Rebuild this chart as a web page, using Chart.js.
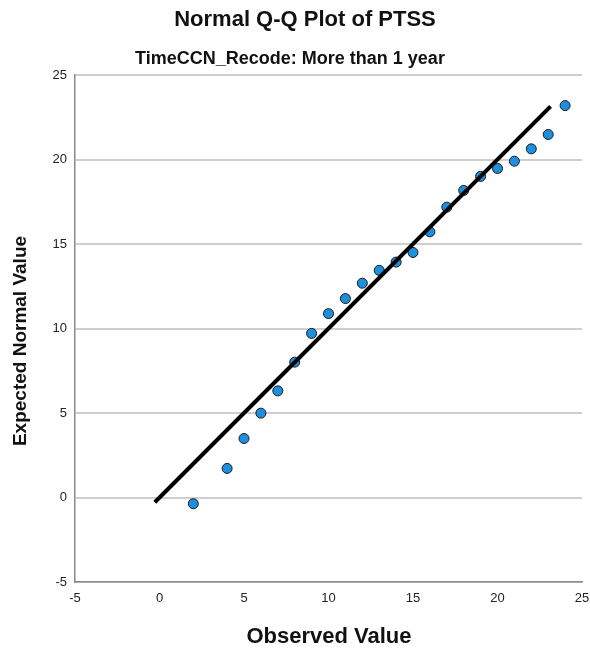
<!DOCTYPE html>
<html lang="en">
<head>
    <meta charset="UTF-8">
    <title>Normal Q-Q Plot of PTSS</title>
    <script src="https://cdn.jsdelivr.net/npm/chart.js"></script>
    <style>
        html, body { margin: 0; padding: 0; background: #fff; }
        #wrap { width: 590px; height: 648px; }
    </style>
</head>
<body>
    <div id="wrap"><canvas id="qqChart" width="590" height="648"></canvas></div>

    <script>
        // Observed PTSS scores and their expected normal values
        const observed = [2, 4, 5, 6, 7, 8, 9, 10, 11, 12, 13, 14, 15, 16, 17, 18, 19, 20, 21, 22, 23, 24];
        const expected = [-0.37, 1.72, 3.49, 4.99, 6.31, 8.01, 9.71, 10.88, 11.77, 12.68, 13.44, 13.93,
                          14.50, 15.72, 17.18, 18.17, 19.00, 19.47, 19.90, 20.63, 21.48, 23.19];

        // Reference line end points (y = x)
        const refLine = [-0.28, 23.14];

        const axisTicks = [-5, 0, 5, 10, 15, 20, 25];

        const titleText = "Normal Q-Q Plot of PTSS";
        const subtitleText = "TimeCCN_Recode: More than 1 year";
        const xTitle = "Observed Value";
        const yTitle = "Expected Normal Value";

        const FONT = "'Liberation Sans', Arial, sans-serif";

        // titles drawn straight onto the canvas
        const titlesPlugin = {
            id: "titles",
            afterDraw(chart) {
                const ctx = chart.ctx;
                ctx.save();
                ctx.fillStyle = "#111";
                ctx.textAlign = "center";
                ctx.textBaseline = "middle";
                ctx.font = "bold 22px " + FONT;
                ctx.fillText(titleText, 305, 20);
                ctx.font = "bold 18px " + FONT;
                ctx.fillText(subtitleText, 290, 59);
                ctx.font = "bold 22px " + FONT;
                ctx.fillText(xTitle, 329, 637);
                ctx.translate(21, 341);
                ctx.rotate(-Math.PI / 2);
                ctx.font = "bold 19px " + FONT;
                ctx.fillText(yTitle, 0, 0);
                ctx.restore();
            }
        };

        new Chart(document.getElementById("qqChart"), {
            type: "scatter",
            data: {
                datasets: [
                    {
                        type: "line",
                        data: refLine.map(v => ({ x: v, y: v })),
                        borderColor: "#000",
                        borderWidth: 4,
                        pointRadius: 0,
                        fill: false,
                        order: 0
                    },
                    {
                        data: observed.map((x, i) => ({ x: x, y: expected[i] })),
                        backgroundColor: "#1e8fdc",
                        borderColor: "#1a1a1a",
                        borderWidth: 1,
                        pointRadius: 5,
                        order: 1
                    }
                ]
            },
            options: {
                responsive: false,
                animation: false,
                layout: { padding: { top: 75, right: 8, left: 0, bottom: 0 } },
                plugins: {
                    legend: { display: false },
                    tooltip: { enabled: false }
                },
                scales: {
                    x: {
                        type: "linear",
                        min: -5,
                        max: 25,
                        afterBuildTicks: s => { s.ticks = axisTicks.map(v => ({ value: v })); },
                        afterFit: s => {
                            s.height = 66;
                            // the end labels may hang past the plot edge
                            s.paddingLeft = 0;
                            s.paddingRight = 0;
                        },
                        grid: { display: false, drawTicks: false },
                        border: { display: true, color: "#8a8a8a", width: 1.5 },
                        ticks: { color: "#222", padding: 9, font: { family: FONT, size: 13 } }
                    },
                    y: {
                        type: "linear",
                        min: -5,
                        max: 25,
                        afterBuildTicks: s => { s.ticks = axisTicks.map(v => ({ value: v })); },
                        afterFit: s => { s.width = 75; },
                        grid: { color: "#cfcfcf", lineWidth: 2, drawTicks: false },
                        border: { display: true, color: "#8a8a8a", width: 1.5 },
                        ticks: { color: "#222", padding: 8, font: { family: FONT, size: 13 } }
                    }
                }
            },
            plugins: [titlesPlugin]
        });
    </script>
</body>
</html>
